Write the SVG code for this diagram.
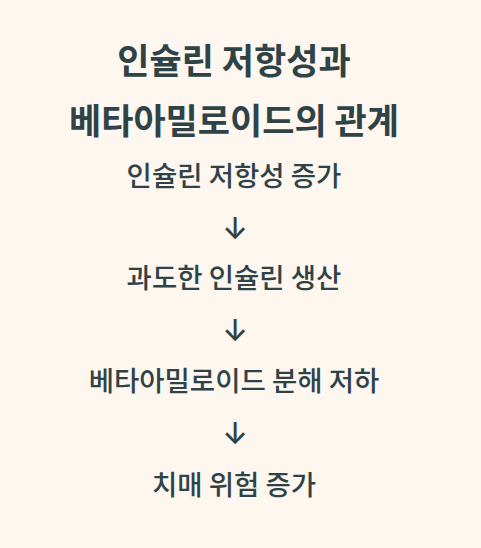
<svg xmlns="http://www.w3.org/2000/svg" width="481" height="548" viewBox="0 0 481 548">
<style>
text{font-family:"Noto Sans CJK KR","Noto Sans",sans-serif;fill:#2f4346;text-anchor:middle}
.t{font-size:35px;font-weight:600}
.i{font-size:27.5px;font-weight:500}
.a{font-family:Inter,"DejaVu Sans",sans-serif;font-size:30px;font-weight:500}
</style>
<rect width="481" height="548" fill="#fdf7f0"/>
<g id="title">
<text class="t" x="234" y="74">인슐린 저항성과</text>
<text class="t" x="234" y="134">베타아밀로이드의 관계</text>
</g>
<g id="n1"><text class="i" x="234" y="186">인슐린 저항성 증가</text></g>
<g id="n2"><text class="i" x="234" y="288">과도한 인슐린 생산</text></g>
<g id="n3"><text class="i" x="234" y="391">베타아밀로이드 분해 저하</text></g>
<g id="n4"><text class="i" x="234" y="495">치매 위험 증가</text></g>
<g id="connectors">
<text class="a" x="235" y="239">↓</text>
<text class="a" x="235" y="341">↓</text>
<text class="a" x="235" y="444">↓</text>
</g>
</svg>
